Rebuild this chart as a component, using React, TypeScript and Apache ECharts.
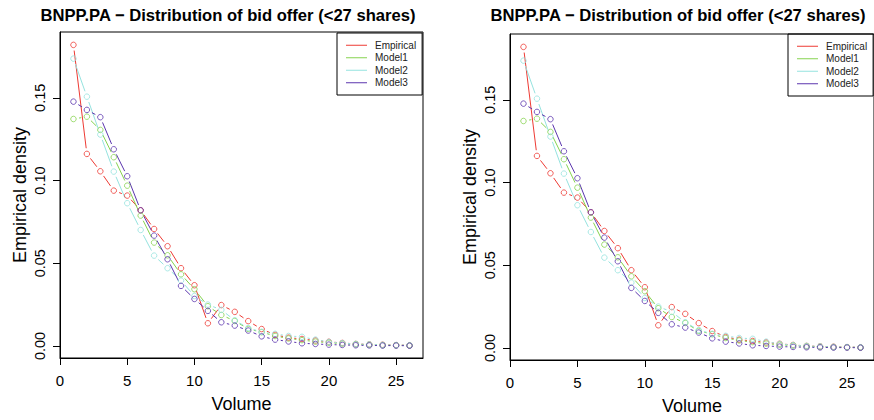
import React, { useEffect, useRef } from "react";
import * as echarts from "echarts";

const volumes = [1, 2, 3, 4, 5, 6, 7, 8, 9, 10, 11, 12, 13, 14, 15, 16, 17, 18, 19, 20, 21, 22, 23, 24, 25, 26];
const empirical = [0.182, 0.1161, 0.1056, 0.0939, 0.0909, 0.082, 0.0707, 0.0603, 0.047, 0.0367, 0.0137, 0.0247, 0.0206, 0.015, 0.0102, 0.0067, 0.005, 0.0042, 0.0033, 0.0025, 0.0018, 0.0012, 0.0009, 0.0007, 0.0005, 0.0004];
const model1 = [0.1372, 0.1386, 0.1306, 0.1141, 0.0969, 0.0788, 0.0625, 0.0548, 0.0433, 0.0343, 0.024, 0.0187, 0.0151, 0.0103, 0.0083, 0.006, 0.0045, 0.0035, 0.0026, 0.0019, 0.0014, 0.001, 0.0007, 0.0005, 0.0004, 0.0003];
const model2 = [0.1737, 0.1507, 0.1278, 0.1054, 0.0863, 0.0701, 0.0546, 0.047, 0.0395, 0.0302, 0.025, 0.0218, 0.0155, 0.0108, 0.0085, 0.0073, 0.006, 0.0055, 0.0038, 0.0024, 0.0017, 0.0012, 0.0009, 0.0006, 0.0005, 0.0004];
const model3 = [0.1477, 0.1427, 0.1383, 0.1189, 0.1026, 0.082, 0.0667, 0.0524, 0.0363, 0.0284, 0.0212, 0.0143, 0.0123, 0.0093, 0.0058, 0.0038, 0.0027, 0.0016, 0.0012, 0.0008, 0.0006, 0.0004, 0.0003, 0.0002, 0.0002, 0.0001];

const seriesNames = ["Empirical", "Model1", "Model2", "Model3"];
const seriesValues = [empirical, model1, model2, model3];
const seriesColors = ["#EE3A33", "#86D34F", "#95E3DF", "#5B35AE"];

const xTicks = [0, 5, 10, 15, 20, 25];
const yTicks = [0, 0.05, 0.1, 0.15];
const titleText = "BNPP.PA \u2212 Distribution of bid offer (<27 shares)";
const xLabel = "Volume";
const yLabel = "Empirical density";

const FONT = "'Liberation Sans', Arial, Helvetica, sans-serif";
const GAP = 5.7;

const panels = [
  { left: 60, top: 32, width: 363, height: 326, titleX: 228, legendLeft: 337, legendTop: 33 },
  { left: 510, top: 34, width: 364, height: 327, titleX: 678, legendLeft: 788, legendTop: 34 },
];

function segRender(_params: any, api: any) {
  const p1 = api.coord([api.value(0), api.value(1)]);
  const p2 = api.coord([api.value(2), api.value(3)]);
  const dx = p2[0] - p1[0];
  const dy = p2[1] - p1[1];
  const len = Math.hypot(dx, dy);
  if (len <= 2 * GAP) return { type: "group", children: [] };
  const ux = dx / len;
  const uy = dy / len;
  return {
    type: "line",
    shape: { x1: p1[0] + ux * GAP, y1: p1[1] + uy * GAP, x2: p2[0] - ux * GAP, y2: p2[1] - uy * GAP },
    style: { stroke: api.visual("color"), lineWidth: 1, fill: null },
  };
}

export default function App() {
  const ref = useRef<HTMLDivElement>(null);
  useEffect(() => {
    if (!ref.current) return;
    const chart = echarts.init(ref.current, undefined, { renderer: "svg" });

    const grids: any[] = [];
    const xAxes: any[] = [];
    const yAxes: any[] = [];
    const legends: any[] = [];
    const series: any[] = [];
    const graphics: any[] = [];

    panels.forEach((p, pi) => {
      grids.push({
        left: p.left,
        top: p.top,
        width: p.width,
        height: p.height,
        show: true,
        borderColor: "#000",
        borderWidth: 1,
        backgroundColor: "transparent",
      });
      xAxes.push({
        type: "value",
        gridIndex: pi,
        min: 0,
        max: 27,
        name: xLabel,
        nameLocation: "middle",
        nameGap: 37,
        nameTextStyle: { fontSize: 18, color: "#000", fontFamily: FONT },
        axisLine: { show: true, onZero: false, lineStyle: { color: "#000", width: 1 } },
        axisTick: { show: true, length: 7, customValues: xTicks, lineStyle: { color: "#000" } },
        axisLabel: { show: true, customValues: xTicks, fontSize: 15, color: "#000", margin: 15, fontFamily: FONT },
        splitLine: { show: false },
      });
      yAxes.push({
        type: "value",
        gridIndex: pi,
        min: -0.0073,
        max: 0.1898,
        name: yLabel,
        nameLocation: "middle",
        nameGap: 31,
        nameTextStyle: { fontSize: 18, color: "#000", fontFamily: FONT },
        axisLine: { show: true, onZero: false, lineStyle: { color: "#000", width: 1 } },
        axisTick: { show: true, length: 7, customValues: yTicks, lineStyle: { color: "#000" } },
        axisLabel: {
          show: true,
          customValues: yTicks,
          rotate: 90,
          fontSize: 14.5,
          color: "#000",
          margin: 13,
          fontFamily: FONT,
          formatter: (v: number) => v.toFixed(2),
        },
        splitLine: { show: false },
      });
      legends.push({
        show: true,
        orient: "vertical",
        left: p.legendLeft,
        top: p.legendTop,
        data: seriesNames.map((n, i) => ({ name: n, itemStyle: { color: seriesColors[i] } })),
        icon: "rect",
        itemWidth: 21,
        itemHeight: 1,
        itemGap: 0,
        borderColor: "#000",
        borderWidth: 1,
        borderRadius: 0,
        padding: [6, 6, 6, 9],
        selectedMode: false,
        textStyle: { fontSize: 10, lineHeight: 12.5, color: "#222", fontFamily: FONT, padding: [0, 0, 0, 3] },
      });
      seriesValues.forEach((vals, si) => {
        const segs = volumes.slice(0, -1).map((v, k) => [v, vals[k], volumes[k + 1], vals[k + 1]]);
        series.push({
          type: "custom",
          name: seriesNames[si],
          xAxisIndex: pi,
          yAxisIndex: pi,
          color: seriesColors[si],
          itemStyle: { color: seriesColors[si] },
          renderItem: segRender,
          encode: { x: [0, 2], y: [1, 3] },
          data: segs,
          silent: true,
          z: 2,
        });
      });
      seriesValues.forEach((vals, si) => {
        series.push({
          type: "scatter",
          name: seriesNames[si],
          xAxisIndex: pi,
          yAxisIndex: pi,
          symbol: "circle",
          symbolSize: 5.5,
          itemStyle: { color: "transparent", borderColor: seriesColors[si], borderWidth: 1 },
          data: volumes.map((v, k) => [v, vals[k]]),
          silent: true,
          z: 3,
        });
      });
      graphics.push({
        type: "text",
        x: p.titleX,
        y: 15,
        style: {
          text: titleText,
          textAlign: "center",
          textVerticalAlign: "middle",
          fontSize: 16.6,
          fontWeight: "bold",
          fontFamily: FONT,
          fill: "#000",
        },
      });
    });

    chart.setOption({
      animation: false,
      backgroundColor: "#fff",
      grid: grids,
      xAxis: xAxes,
      yAxis: yAxes,
      legend: legends,
      series,
      graphic: graphics,
    });
    return () => chart.dispose();
  }, []);
  return <div ref={ref} style={{ position: "fixed", left: 0, top: 0, width: 874, height: 420 }} />;
}
